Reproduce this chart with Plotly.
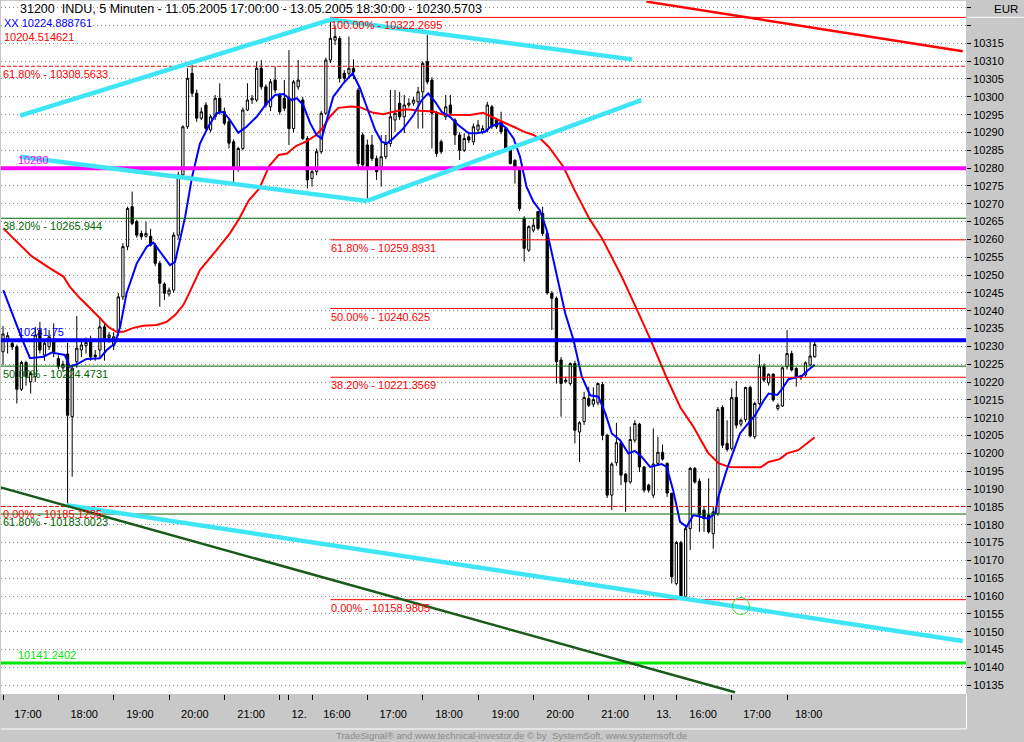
import plotly.graph_objects as go

# ---------------- data ----------------
bar_open = [
    10228.5, 10232.0, 10230.9, 10229.9, 10218.0, 10225.5, 10220.1, 10221.5, 10234.6, 10227.6,
    10229.9, 10232.0, 10226.6, 10224.0, 10227.9, 10210.3, 10225.7, 10229.0, 10230.2, 10231.5,
    10227.6, 10229.0, 10235.5, 10232.5, 10230.2, 10234.1, 10243.9, 10258.0, 10269.2, 10265.0,
    10261.7, 10260.9, 10260.9, 10258.4, 10253.3, 10247.5, 10244.7, 10245.8, 10261.2, 10278.1,
    10291.6, 10306.6, 10301.0, 10294.0, 10297.7, 10290.7, 10294.4, 10299.6, 10295.8, 10293.0,
    10287.4, 10279.9, 10285.5, 10296.3, 10299.1, 10299.1, 10308.0, 10302.8, 10297.2, 10304.7,
    10300.5, 10299.6, 10299.6, 10291.1, 10302.8, 10299.1, 10288.3, 10277.1, 10279.0, 10284.6,
    10295.4, 10310.3, 10315.9, 10316.4, 10306.6, 10306.6, 10308.0, 10301.9, 10289.3, 10286.5,
    10286.5, 10282.7, 10280.4, 10283.2, 10286.9, 10293.5, 10298.2, 10294.4, 10297.7, 10298.2,
    10298.6, 10301.4, 10309.9, 10304.7, 10295.4, 10287.4, 10294.4, 10297.7, 10293.5, 10289.3,
    10285.0, 10288.8, 10287.4, 10290.7, 10290.2, 10290.7, 10297.2, 10293.5, 10293.0, 10291.1,
    10285.5, 10282.2, 10279.4, 10265.9, 10257.0, 10262.6, 10267.8, 10267.3, 10261.7, 10244.9,
    10243.5, 10226.2, 10220.1, 10219.6, 10225.2, 10206.0, 10208.9, 10215.4, 10213.8, 10214.2,
    10219.3, 10205.1, 10188.3, 10197.4, 10203.0, 10194.2, 10192.0, 10203.7, 10208.2, 10196.2,
    10191.1, 10188.3, 10197.2, 10200.3, 10197.2, 10188.8, 10163.5, 10175.0, 10159.8, 10178.9,
    10195.8, 10192.2, 10184.1, 10182.7, 10177.5, 10183.1, 10212.9, 10202.8, 10201.4, 10215.7,
    10208.2, 10209.5, 10218.5, 10204.7, 10214.0, 10224.5, 10219.8, 10222.2, 10212.6, 10213.3,
    10224.3, 10228.0, 10223.8, 10221.2, 10222.0, 10224.8, 10227.1,
]
bar_high = [
    10235.7, 10234.0, 10231.5, 10230.5, 10226.0, 10226.0, 10223.0, 10235.5, 10236.9, 10232.0,
    10234.6, 10236.5, 10227.5, 10226.0, 10231.0, 10225.0, 10238.5, 10232.0, 10232.5, 10233.0,
    10229.0, 10238.3, 10236.5, 10234.0, 10234.0, 10245.0, 10259.0, 10269.2, 10273.4, 10265.5,
    10262.5, 10265.0, 10263.0, 10259.0, 10254.0, 10248.0, 10246.5, 10262.0, 10279.0, 10292.0,
    10308.0, 10309.0, 10302.0, 10297.0, 10298.5, 10295.0, 10300.5, 10303.8, 10297.0, 10294.0,
    10288.0, 10286.0, 10297.0, 10303.8, 10300.5, 10309.9, 10310.3, 10303.5, 10305.0, 10308.5,
    10301.0, 10304.7, 10313.1, 10304.7, 10310.3, 10300.0, 10289.0, 10280.0, 10285.5, 10296.0,
    10311.0, 10322.27, 10320.0, 10317.0, 10307.5, 10316.9, 10310.5, 10302.5, 10290.0, 10288.0,
    10289.3, 10283.5, 10289.3, 10289.3, 10301.9, 10301.9, 10301.4, 10300.5, 10299.6, 10300.0,
    10302.8, 10309.9, 10317.3, 10305.5, 10296.0, 10288.0, 10300.5, 10300.5, 10294.0, 10290.0,
    10289.8, 10289.5, 10292.5, 10293.5, 10292.0, 10298.6, 10297.7, 10294.0, 10295.8, 10291.5,
    10286.0, 10282.5, 10280.0, 10266.5, 10264.0, 10265.9, 10268.0, 10269.2, 10262.0, 10245.5,
    10244.0, 10227.0, 10221.5, 10225.5, 10226.0, 10209.0, 10217.3, 10218.7, 10218.5, 10219.8,
    10220.0, 10205.5, 10197.5, 10208.6, 10203.5, 10194.5, 10207.5, 10209.3, 10208.6, 10196.5,
    10191.5, 10207.0, 10204.7, 10202.5, 10197.5, 10189.0, 10175.5, 10175.5, 10179.5, 10196.2,
    10196.2, 10193.0, 10185.0, 10193.0, 10185.0, 10213.0, 10213.5, 10209.3, 10218.2, 10220.3,
    10209.8, 10218.7, 10219.0, 10214.5, 10227.8, 10225.2, 10222.4, 10222.5, 10214.0, 10224.3,
    10234.6, 10228.8, 10224.2, 10222.0, 10225.8, 10231.8, 10231.6,
]
bar_low = [
    10224.8, 10228.0, 10229.0, 10214.0, 10217.5, 10219.0, 10216.8, 10220.0, 10228.0, 10226.0,
    10229.0, 10227.0, 10223.5, 10223.0, 10185.1, 10193.5, 10224.0, 10227.0, 10228.0, 10226.0,
    10226.0, 10227.0, 10226.0, 10231.0, 10229.0, 10233.0, 10243.0, 10257.0, 10264.0, 10260.5,
    10260.0, 10260.5, 10258.0, 10252.5, 10241.1, 10243.0, 10244.0, 10245.0, 10260.0, 10277.0,
    10291.0, 10300.0, 10293.0, 10293.5, 10290.6, 10290.0, 10293.5, 10295.0, 10292.0, 10285.5,
    10275.7, 10279.0, 10285.0, 10296.0, 10298.0, 10298.5, 10302.0, 10297.0, 10296.0, 10301.0,
    10295.0, 10296.0, 10286.5, 10290.0, 10302.0, 10287.9, 10274.3, 10274.8, 10278.0, 10284.0,
    10295.0, 10309.5, 10314.5, 10304.0, 10304.0, 10305.5, 10305.0, 10280.0, 10280.0, 10271.5,
    10282.0, 10276.7, 10274.8, 10282.5, 10286.0, 10290.2, 10293.5, 10289.8, 10297.0, 10297.5,
    10291.1, 10291.1, 10303.5, 10285.5, 10283.2, 10284.0, 10293.5, 10295.0, 10286.5, 10282.3,
    10284.5, 10287.0, 10286.5, 10290.0, 10289.5, 10290.0, 10291.0, 10291.0, 10289.5, 10285.0,
    10281.0, 10275.7, 10268.0, 10253.8, 10256.5, 10262.0, 10262.5, 10261.0, 10244.5, 10234.6,
    10219.6, 10210.3, 10219.6, 10219.0, 10202.8, 10197.6, 10208.0, 10213.0, 10213.0, 10213.5,
    10203.7, 10187.5, 10184.1, 10196.5, 10191.1, 10183.6, 10191.5, 10203.0, 10194.8, 10189.0,
    10189.0, 10187.5, 10196.5, 10198.0, 10187.8, 10163.5, 10163.0, 10158.98, 10158.98, 10172.9,
    10191.5, 10178.0, 10178.0, 10177.5, 10173.3, 10182.5, 10201.5, 10200.5, 10200.8, 10207.0,
    10207.5, 10208.8, 10204.5, 10204.0, 10213.5, 10220.0, 10219.0, 10214.5, 10212.0, 10213.0,
    10223.5, 10223.0, 10218.7, 10220.6, 10221.5, 10224.5, 10226.8,
]
bar_close = [
    10233.5, 10233.0, 10229.9, 10218.0, 10225.5, 10221.5, 10222.4, 10233.2, 10229.0, 10230.9,
    10232.7, 10228.5, 10224.3, 10225.0, 10210.7, 10223.9, 10229.5, 10230.4, 10231.1, 10227.1,
    10227.2, 10235.5, 10232.0, 10233.2, 10232.7, 10243.9, 10258.0, 10268.7, 10264.5, 10261.2,
    10260.8, 10261.7, 10258.4, 10253.3, 10247.7, 10244.9, 10245.8, 10261.2, 10278.1, 10291.6,
    10305.2, 10301.0, 10294.0, 10295.8, 10291.1, 10294.4, 10299.6, 10295.8, 10292.6, 10287.0,
    10279.9, 10285.5, 10296.3, 10299.1, 10299.6, 10308.0, 10302.8, 10297.7, 10304.2, 10301.9,
    10295.8, 10296.8, 10291.1, 10304.2, 10304.7, 10288.3, 10276.7, 10279.0, 10284.6, 10295.4,
    10310.3, 10316.4, 10316.9, 10305.2, 10305.2, 10308.0, 10307.0, 10281.3, 10280.9, 10280.4,
    10282.7, 10279.0, 10283.2, 10286.9, 10294.4, 10295.4, 10294.4, 10297.7, 10298.2, 10299.1,
    10301.4, 10309.4, 10304.2, 10295.4, 10284.1, 10284.6, 10297.2, 10295.4, 10289.3, 10285.0,
    10288.3, 10287.9, 10291.6, 10292.1, 10291.1, 10297.7, 10291.6, 10291.6, 10290.2, 10285.5,
    10281.3, 10279.9, 10268.7, 10257.5, 10263.6, 10264.0, 10263.1, 10261.7, 10245.0, 10243.5,
    10225.7, 10219.6, 10220.5, 10225.2, 10206.5, 10208.6, 10215.7, 10213.5, 10215.1, 10219.6,
    10205.1, 10188.3, 10197.0, 10203.0, 10193.9, 10192.0, 10203.9, 10208.4, 10196.2, 10189.7,
    10189.7, 10197.0, 10200.3, 10198.4, 10188.9, 10165.4, 10175.0, 10159.8, 10178.9, 10195.8,
    10192.0, 10182.7, 10181.7, 10178.0, 10183.6, 10212.3, 10202.3, 10201.1, 10215.7, 10207.9,
    10209.3, 10218.5, 10204.9, 10214.0, 10224.5, 10220.6, 10222.2, 10215.0, 10213.5, 10224.0,
    10228.0, 10223.4, 10221.5, 10221.7, 10225.4, 10227.3, 10230.57,
]
bar_index = list(range(len(bar_open)))

# moving averages: (bar, price)
ma_fast_points = [
    (0.07, 10245.8), (2.24, 10238.3), (4.05, 10232.3), (5.85, 10226.7), (8.75, 10227.1),
    (10.55, 10228.3), (12.0, 10227.9), (13.4, 10227.6), (14.5, 10224.3), (16.0, 10225.0),
    (18.1, 10226.5), (21.0, 10226.7), (22.5, 10229.0), (24.3, 10230.9), (25.4, 10235.5),
    (26.8, 10244.9), (29.0, 10253.3), (31.2, 10258.0), (32.6, 10259.1), (34.0, 10256.6),
    (36.2, 10252.8), (37.3, 10253.7), (38.7, 10261.7), (39.5, 10266.4), (41.0, 10277.6),
    (42.7, 10286.9), (44.5, 10291.6), (46.3, 10295.4), (47.8, 10295.8), (49.2, 10293.5),
    (51.0, 10289.9), (52.8, 10291.6), (55.0, 10294.4), (57.2, 10298.2), (59.0, 10300.5),
    (60.8, 10300.8), (62.6, 10299.1), (63.7, 10299.6), (65.1, 10297.7), (66.6, 10292.6),
    (68.0, 10289.3), (69.1, 10288.3), (70.2, 10293.5), (71.6, 10300.0), (73.8, 10303.8),
    (75.8, 10306.6), (77.4, 10302.4), (78.8, 10297.2), (80.7, 10290.7), (82.1, 10287.4),
    (83.2, 10286.9), (84.6, 10288.3), (86.8, 10291.1), (89.0, 10294.9), (90.8, 10299.1),
    (92.2, 10301.0), (93.7, 10298.6), (95.1, 10295.8), (96.9, 10294.4), (98.7, 10292.1),
    (101.0, 10289.8), (102.7, 10289.8), (104.5, 10290.2), (105.9, 10291.8), (107.8, 10292.6),
    (109.2, 10291.1), (110.7, 10288.3), (112.1, 10283.2), (113.5, 10274.8), (115.0, 10270.6),
    (116.4, 10268.2), (117.9, 10262.6), (119.3, 10254.2), (120.4, 10248.6), (121.9, 10239.3),
    (123.7, 10231.8), (125.5, 10221.5), (127.3, 10216.3), (129.1, 10215.9), (130.6, 10211.2),
    (132.0, 10205.6), (133.8, 10203.7), (135.6, 10200.0), (137.0, 10200.7), (138.5, 10199.0),
    (140.3, 10196.2), (142.8, 10197.0), (143.9, 10196.2), (145.3, 10189.7), (146.8, 10180.8),
    (148.2, 10179.4), (149.7, 10182.7), (151.1, 10182.2), (152.9, 10181.7), (154.4, 10183.1),
    (155.1, 10187.8), (156.9, 10195.3), (158.4, 10200.9), (159.8, 10205.6), (161.3, 10208.0),
    (163.1, 10210.7), (165.0, 10215.0), (166.0, 10216.8), (167.9, 10216.4), (169.0, 10218.2),
    (170.3, 10220.8), (171.7, 10221.3), (173.2, 10221.7), (174.6, 10223.4), (176.0, 10224.89),
]
ma_slow_points = [
    (0.07, 10263.1), (3.7, 10258.4), (6.2, 10255.3), (10.2, 10251.9), (13.1, 10249.6),
    (14.5, 10246.7), (16.7, 10243.5), (18.9, 10240.7), (21.0, 10237.9), (22.8, 10235.5),
    (24.6, 10234.1), (26.1, 10234.1), (28.3, 10235.2), (30.4, 10235.8), (33.3, 10236.0),
    (35.5, 10236.9), (37.3, 10238.8), (39.1, 10241.6), (40.5, 10245.3), (42.7, 10251.4),
    (46.3, 10257.0), (49.2, 10261.7), (51.2, 10265.8), (53.3, 10271.0), (55.6, 10274.3),
    (57.7, 10280.6), (59.8, 10283.7), (61.6, 10284.1), (63.5, 10286.2), (65.8, 10287.5),
    (67.9, 10289.3), (69.4, 10291.4), (70.9, 10294.5), (72.7, 10296.9), (75.5, 10297.3),
    (77.4, 10297.1), (80.3, 10295.5), (82.5, 10295.1), (84.6, 10295.8), (87.5, 10296.5),
    (90.4, 10296.1), (93.3, 10295.9), (95.5, 10295.0), (98.4, 10294.9), (101.3, 10294.9),
    (104.1, 10295.5), (106.3, 10294.1), (108.6, 10292.8), (110.7, 10291.6), (112.8, 10290.3),
    (115.0, 10289.3), (116.8, 10287.9), (118.3, 10286.0), (120.0, 10283.2), (121.5, 10280.4),
    (123.9, 10273.9), (127.1, 10265.9), (129.9, 10260.3), (131.1, 10257.3), (134.3, 10249.2),
    (137.5, 10240.2), (140.3, 10232.2), (143.8, 10221.5), (146.9, 10212.8), (149.7, 10207.5),
    (152.8, 10200.3), (155.2, 10197.2), (157.5, 10196.2), (161.2, 10196.1), (164.3, 10196.1),
    (166.0, 10197.6), (168.4, 10198.4), (170.0, 10200.0), (172.4, 10200.9), (174.3, 10202.8),
    (176.0, 10204.51),
]

# x axis: session/hour boundaries (bar numbers) and time labels
session_ticks = [0, 12, 24, 36, 48, 60, 62, 67, 79, 91, 103, 115, 127, 139, 141, 146, 158, 170]
time_label_pos = [5.4, 17.6, 29.7, 41.6, 53.8, 64.2, 72.4, 84.6, 96.7, 108.9, 120.8, 132.7,
                  143.3, 151.8, 163.5, 174.7]
time_labels = ["17:00", "18:00", "19:00", "20:00", "21:00", "12.", "16:00", "17:00", "18:00",
               "19:00", "20:00", "21:00", "13.", "16:00", "17:00", "18:00"]

# y axis ticks
price_ticks = list(range(10135, 10330, 5))
price_tick_text = [str(p) if p <= 10315 else "" for p in price_ticks]

# full-width horizontal levels
level_values = [10308.5633, 10280.0, 10265.944, 10231.75, 10224.4731, 10185.1235, 10183.0023, 10141.2402]
level_texts = ["61.80% - 10308.5633", "10280", "38.20% - 10265.944", "10231.75",
               "50.00% - 10224.4731", "0.00% - 10185.1235", "61.80% - 10183.0023", "10141.2402"]

# Fibonacci levels starting at the high bar
fib_start_bar = 71
fib_values = [10322.2695, 10259.8931, 10240.625, 10221.3569, 10158.9805]
fib_texts = ["100.00% - 10322.2695", "61.80% - 10259.8931", "50.00% - 10240.625",
             "38.20% - 10221.3569", "0.00% - 10158.9805"]

# drawn trend lines: (bar0, price0, bar1, price1)
trend_lines = [
    (3.7, 10294.7, 70.9, 10321.6),
    (70.9, 10321.7, 136.4, 10310.5),
    (3.7, 10283.2, 78.9, 10270.8),
    (78.9, 10270.8, 138.4, 10299.1),
    (13.8, 10185.5, 208.1, 10147.4),
    (-0.65, 10190.5, 158.7, 10133.0),
    (139.5, 10326.7, 208.1, 10312.8),
]
marker_point = (160.0, 10157.2)

title_text = "31200&nbsp; INDU, 5 Minuten - 11.05.2005 17:00:00 - 13.05.2005 18:30:00 - 10230.5703"
fast_text = "XX 10224.888761"
slow_text = "10204.514621"
footer_text = "TradeSignal\u00ae and www.technical-investor.de \u00a9 by&nbsp; SystemSoft, www.systemsoft.de"

# ---------------- styling ----------------
FONT = "Liberation Sans, Arial, sans-serif"
X_RANGE = [-0.434, 208.8]
Y_RANGE = [10132.53, 10326.87]
RED = "#ff0000"
DKGREEN = "#006600"
CYAN = "#3ee6f5"

level_styles = [  # color, width, dash, label x (paper), label above line?
    (RED, 1, "4px,2px", 0.001, False),
    ("#ff00ff", 4, "solid", 0.0166, True),
    (DKGREEN, 1, "solid", 0.001, False),
    ("#0000ff", 4, "solid", 0.0166, True),
    (DKGREEN, 1, "solid", 0.001, False),
    (RED, 1, "4px,2px", 0.001, False),
    (DKGREEN, 1, "solid", 0.001, False),
    ("#00e600", 3, "solid", 0.0166, True),
]
trend_styles = [(CYAN, 4.5)] * 5 + [("#1a5a1a", 2.5), (RED, 2.5)]

fig = go.Figure()

fig.add_trace(go.Candlestick(
    x=bar_index, open=bar_open, high=bar_high, low=bar_low, close=bar_close,
    increasing=dict(line=dict(color="black", width=1), fillcolor="white"),
    decreasing=dict(line=dict(color="black", width=1), fillcolor="black"),
    whiskerwidth=0, showlegend=False, hoverinfo="skip",
))

for pts, col in ((ma_slow_points, RED), (ma_fast_points, "#0000ff")):
    fig.add_trace(go.Scatter(x=[p[0] for p in pts], y=[p[1] for p in pts], mode="lines",
                             line=dict(color=col, width=2), showlegend=False, hoverinfo="skip"))

annotations = []
for v, t, (col, w, dash, lx, above) in zip(level_values, level_texts, level_styles):
    fig.add_trace(go.Scatter(x=X_RANGE, y=[v, v], mode="lines",
                             line=dict(color=col, width=w, dash=dash),
                             showlegend=False, hoverinfo="skip"))
    annotations.append(dict(xref="paper", yref="y", x=lx, y=v, text=t, showarrow=False,
                            xanchor="left", yanchor="bottom" if above else "top",
                            yshift=1 if above else -1, borderpad=0,
                            font=dict(family=FONT, size=11, color=col)))

for v, t in zip(fib_values, fib_texts):
    fig.add_trace(go.Scatter(x=[fib_start_bar, X_RANGE[1]], y=[v, v], mode="lines",
                             line=dict(color=RED, width=1), showlegend=False, hoverinfo="skip"))
    annotations.append(dict(xref="x", yref="y", x=fib_start_bar, y=v, text=t, showarrow=False,
                            xanchor="left", yanchor="top", yshift=-1, borderpad=0,
                            font=dict(family=FONT, size=11, color=RED)))

for (x0, y0, x1, y1), (col, w) in zip(trend_lines, trend_styles):
    fig.add_trace(go.Scatter(x=[x0, x1], y=[y0, y1], mode="lines",
                             line=dict(color=col, width=w), showlegend=False, hoverinfo="skip"))

fig.add_trace(go.Scatter(x=[marker_point[0]], y=[marker_point[1]], mode="markers",
                         marker=dict(symbol="circle-open", size=17, color="#33dd33",
                                     line=dict(width=1)),
                         showlegend=False, hoverinfo="skip"))

annotations += [
    dict(xref="paper", yref="paper", x=0.0176, y=0.9885, text=title_text, showarrow=False,
         xanchor="left", yanchor="middle", font=dict(family=FONT, size=12.5, color="black")),
    dict(xref="paper", yref="paper", x=0.001, y=0.968, text=fast_text, showarrow=False,
         xanchor="left", yanchor="middle", font=dict(family=FONT, size=11, color="#0000ff")),
    dict(xref="paper", yref="paper", x=0.001, y=0.948, text=slow_text, showarrow=False,
         xanchor="left", yanchor="middle", font=dict(family=FONT, size=11, color=RED)),
    dict(xref="paper", yref="paper", x=1.056, y=0.9885, text="EUR", showarrow=False,
         xanchor="right", yanchor="middle", font=dict(family=FONT, size=11.5, color="black")),
    dict(xref="paper", yref="paper", x=0.5285, y=-0.0606, text=footer_text, showarrow=False,
         xanchor="center", yanchor="middle", font=dict(family=FONT, size=9.5, color="#8a8a8a")),
]

fig.update_layout(
    width=1024, height=742,
    margin=dict(l=1, r=58, t=1, b=48, pad=0),
    paper_bgcolor="#c8c8c8", plot_bgcolor="white",
    showlegend=False,
    annotations=annotations,
    shapes=[
        dict(type="line", xref="paper", yref="paper", x0=0, x1=1, y0=-0.0505, y1=-0.0505,
             line=dict(color="white", width=1)),
        dict(type="line", xref="paper", yref="paper", x0=1.0005, x1=1.0005, y0=0, y1=-0.0505,
             line=dict(color="white", width=1)),
        dict(type="line", xref="paper", yref="paper", x0=1.001, x1=1.06, y0=0.9765, y1=0.9765,
             line=dict(color="white", width=1)),
    ],
    xaxis=dict(
        range=X_RANGE, showgrid=False, zeroline=False, showline=False,
        rangeslider=dict(visible=False),
        tickmode="array", tickvals=time_label_pos, ticktext=time_labels,
        ticks="outside", ticklen=10, tickcolor="rgba(0,0,0,0)",
        tickfont=dict(family=FONT, size=11, color="black"),
        minor=dict(tickmode="array", tickvals=session_ticks, ticks="outside",
                   ticklen=5, tickwidth=1, tickcolor="black", showgrid=False),
    ),
    yaxis=dict(
        range=Y_RANGE, side="right", zeroline=False, showline=False,
        tickmode="array", tickvals=price_ticks, ticktext=price_tick_text,
        ticks="outside", ticklen=4, tickcolor="black",
        showgrid=True, gridcolor="#8c8c8c", griddash="1px,3px", gridwidth=1,
        tickfont=dict(family=FONT, size=11, color="black"),
    ),
)

# remove the default page margin so the 1024x742 figure fills the window exactly
fig.write_html("out.html", config={"displayModeBar": False},
               post_script="document.body.style.margin='0';document.body.style.overflow='hidden';")
